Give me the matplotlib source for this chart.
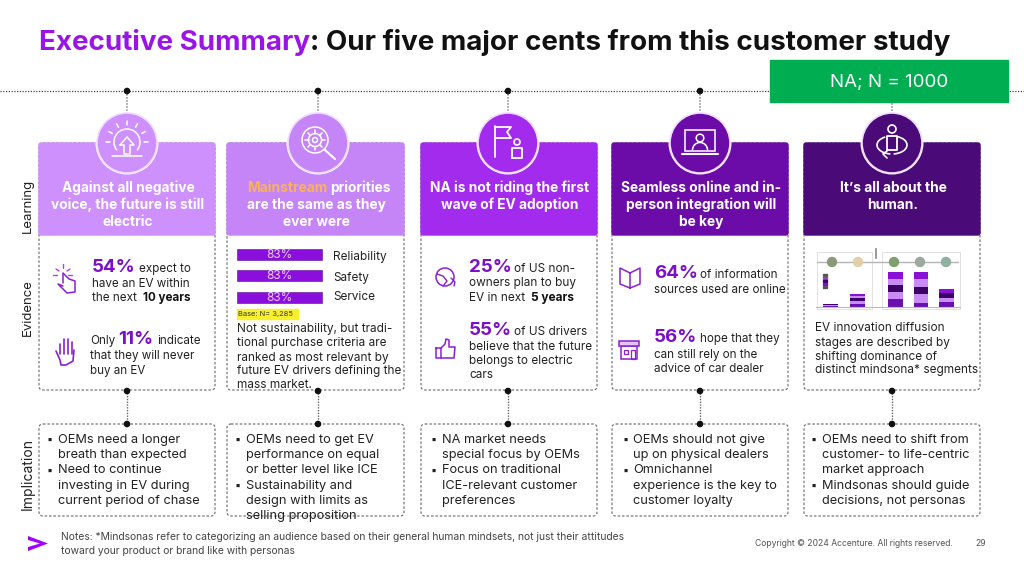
import numpy as np
import matplotlib
matplotlib.use("Agg")
import matplotlib.pyplot as plt
from matplotlib.patches import Circle, FancyBboxPatch, Rectangle, Polygon, Arc

plt.rcParams['font.family'] = ['Inter', 'DejaVu Sans']

# ---- content ----
title_a = "Executive Summary"
title_b = ": Our five major cents from this customer study"
tag = "NA; N = 1000"
row_labels = ["Learning", "Evidence", "Implication"]
bar_labels = ["Reliability", "Safety", "Service"]
bar_values = [83, 83, 83]
base_note = "Base: N= 3,285"
headers = [
    ["Against all negative", "voice, the future is still", "electric"],
    ["priorities", "are the same as they", "ever were"],
    ["NA is not riding the first", "wave of EV adoption"],
    ["Seamless online and in-", "person integration will", "be key"],
    ["It\u2019s all about the", "human."],
]
implications = [
    ["OEMs need a longer", "breath than expected", "Need to continue", "investing in EV during", "current period of chase"],
    ["OEMs need to get EV", "performance on equal", "or better level like ICE", "Sustainability and", "design with limits as", "selling proposition"],
    ["NA market needs", "special focus by OEMs", "Focus on traditional", "ICE-relevant customer", "preferences"],
    ["OEMs should not give", "up on physical dealers", "Omnichannel", "experience is the key to", "customer loyalty"],
    ["OEMs need to shift from", "customer- to life-centric", "market approach", "Mindsonas should guide", "decisions, not personas"],
]
impl_bullets = [[0, 2], [0, 3], [0, 2], [0, 2], [0, 3]]
impl_indent = [19, 19, 21, 21, 18]
mini_positions = [0, 1, 2.4, 3.35, 4.3]
mini_segments = [
    [1, 3, 8, 4, 5],
    [1, 3, 7, 9, 4],
    [1, 3, 7, 7, 5],
    [0, 2, 6, 8, 0],
    [0, 2, 7, 7, 4],
]
note = ["Notes: *Mindsonas refer to categorizing an audience based on their general human mindsets, not just their attitudes",
        "toward your product or brand like with personas"]
copyright_txt = "Copyright \u00a9 2024 Accenture. All rights reserved."
page = "29"

# ---- layout ----
W, H = 1024, 584
cols = [(39, 215), (227, 404), (421, 597), (612, 788), (804, 980)]
centers = [127, 318, 508, 700, 892]
fills = ["#CE90FC", "#C585F6", "#A32BEE", "#6B0CA8", "#4A0A78"]
PURPLE = "#7B10C8"
TXT = "#222222"
EV = 8.4

fig = plt.figure(figsize=(10.24, 5.84), dpi=100)
ax = fig.add_axes([0, 0, 1, 1])
ax.set_xlim(0, W)
ax.set_ylim(H, 0)
ax.axis("off")
fig.canvas.draw()
rend = fig.canvas.get_renderer()


def runs(x, y, parts):
    """Left-aligned run of differently styled text on one baseline."""
    for s, color, size, weight, gap in parts:
        t = ax.text(x, y, s, color=color, fontsize=size, fontweight=weight, ha="left", va="baseline", zorder=6)
        x = t.get_window_extent(rend).x1 + gap
    return x


def box(x0, y0, x1, y1, **kw):
    ax.add_patch(FancyBboxPatch((x0 + 4, y0 + 4), x1 - x0 - 8, y1 - y0 - 8,
                                boxstyle="round,pad=4,rounding_size=4", **kw))


# title
end = runs(39, 50, [(title_a, "#9A14E8", 20, "bold", 0)])
runs(end, 50, [(title_b, "#111111", 20, "bold", 0)])

# dotted rule
ax.plot([0, W], [91, 91], color="#444444", lw=0.9, ls=(0, (1, 1.2)), zorder=1)

# tag
ax.add_patch(Rectangle((770, 60), 238, 42, color="#00AD50", zorder=8))
ax.text(889, 82, tag, color="white", fontsize=13.5, ha="center", va="center", zorder=9)

# row labels
for lab, yy, fs in zip(row_labels, [206, 308, 474], [9.5, 9.5, 10]):
    ax.text(28, yy, lab, rotation=90, color=TXT, fontsize=fs, ha="center", va="center")

for i, ((x0, x1), cx) in enumerate(zip(cols, centers)):
    # connectors
    ax.plot([cx, cx], [91, 114], color="#888888", lw=1.1, ls=(0, (1, 1)), zorder=1)
    ax.plot([cx, cx], [390, 424], color="#666666", lw=1.0, ls=(0, (1, 1)), zorder=1)
    for yy in (91, 391, 424):
        ax.add_patch(Circle((cx, yy), 2.6, color="#111111", zorder=5))
    # frames
    box(x0, 143, x1, 390, fc="white", ec="#777777", lw=0.9, ls=(0, (2, 1.5)), zorder=2)
    box(x0, 424, x1, 516, fc="white", ec="#777777", lw=0.9, ls=(0, (2, 1.5)), zorder=2)
    # header
    ax.add_patch(FancyBboxPatch((x0 + 2, 145), x1 - x0 - 4, 88, boxstyle="round,pad=2,rounding_size=2",
                                fc=fills[i], ec=fills[i], zorder=3))
    ax.add_patch(Circle((cx, 143), 31.5, fc="white", ec="none", zorder=4))
    ax.add_patch(Circle((cx, 143), 30, fc=fills[i], ec="#F0DCFF", lw=1.2, zorder=4))
    # header text
    lines = headers[i]
    ys = [188, 205, 222] if len(lines) == 3 else [188, 205]
    for j, (s, yy) in enumerate(zip(lines, ys)):
        if i == 1 and j == 0:
            a = ax.text(x1 - 13, yy, s, color="white", fontsize=9.9, fontweight="bold", ha="right", va="center", zorder=6)
            ax.text(a.get_window_extent(rend).x0 - 3, yy, "Mainstream", color="#F9B15C", fontsize=9.9,
                    fontweight="bold", ha="right", va="center", zorder=6)
        else:
            ax.text((x0 + x1) / 2 + 1, yy, s, color="white", fontsize=9.9, fontweight="bold", ha="center", va="center", zorder=6)
    # implications
    yy0 = 440
    for k, s in enumerate(implications[i]):
        yy = yy0 + k * 15.2
        ax.text(x0 + impl_indent[i], yy, s, color=TXT, fontsize=9.2, ha="left", va="center", zorder=6)
        if k in impl_bullets[i]:
            ax.text(x0 + impl_indent[i] - 11, yy, "\u25aa", color=TXT, fontsize=8, ha="left", va="center", zorder=6)

# ---- evidence col 1 ----
runs(92, 272, [("54%", PURPLE, 13.5, "bold", 3), ("expect to", TXT, EV, "normal", 0)])
runs(92, 287, [("have an EV within", TXT, EV, "normal", 0)])
runs(92, 301, [("the next ", TXT, EV, "normal", 2.5), ("10 years", "#111111", EV, "bold", 0)])
runs(90, 344, [("Only", TXT, EV, "normal", 3), ("11%", PURPLE, 13.5, "bold", 4), ("indicate", TXT, EV, "normal", 0)])
runs(90, 359, [("that they will never", TXT, EV, "normal", 0)])
runs(90, 374, [("buy an EV", TXT, EV, "normal", 0)])

# ---- evidence col 2: bars scaled from their values ----
bar_scale = 85.0 / 83.0
for v, lab, yb, yl in zip(bar_values, bar_labels, [254, 275.5, 297], [257, 278, 297]):
    ax.barh(yb, v * bar_scale, left=237, height=11, color="#8A0FDC", ec="#5A0A90", lw=0.4, zorder=5)
    ax.text(237 + v * bar_scale / 2, yb + 0.8, f"{v}%", color="#EFC9FF", fontsize=8.5, ha="center", va="center", zorder=6)
    ax.text(333, yl, lab, color=TXT, fontsize=8.5, ha="left", va="center", zorder=6)
ax.add_patch(Rectangle((237, 308.5), 61, 10, color="#F7F02A", zorder=5))
ax.text(238, 314, base_note, color="#333333", fontsize=5.4, ha="left", va="center", zorder=6)
for s, yy in zip(["Not sustainability, but tradi-", "tional purchase criteria are", "ranked as most relevant by",
                  "future EV drivers defining the", "mass market."], [329, 343, 358, 371, 385]):
    ax.text(237, yy, s, color=TXT, fontsize=8.5, ha="left", va="center", zorder=6)

# ---- evidence col 3 ----
runs(469, 271.5, [("25%", PURPLE, 13.5, "bold", 2), ("of US non-", TXT, EV + 0.1, "normal", 0)])
runs(469, 286, [("owners plan to buy", TXT, EV + 0.1, "normal", 0)])
runs(469, 301, [("EV in next ", TXT, EV + 0.1, "normal", 2.5), ("5 years", "#111111", EV + 0.1, "bold", 0)])
runs(469, 335, [("55%", PURPLE, 13.5, "bold", 2), ("of US drivers", TXT, EV + 0.1, "normal", 0)])
runs(469, 350, [("believe that the future", TXT, EV + 0.1, "normal", 0)])
runs(469, 364, [("belongs to electric", TXT, EV + 0.1, "normal", 0)])
runs(469, 378, [("cars", TXT, EV + 0.1, "normal", 0)])

# ---- evidence col 4 ----
runs(654, 278, [("64%", PURPLE, 13.5, "bold", 2), ("of information", TXT, EV, "normal", 0)])
runs(654, 293, [("sources used are online", TXT, EV, "normal", 0)])
runs(654, 342, [("56%", PURPLE, 13.5, "bold", 3), ("hope that they", TXT, EV, "normal", 0)])
runs(654, 358, [("can still rely on the", TXT, EV, "normal", 0)])
runs(654, 372, [("advice of car dealer", TXT, EV, "normal", 0)])

# ---- evidence col 5 ----
for s, yy in zip(["EV innovation diffusion", "stages are described by", "shifting dominance of",
                  "distinct mindsona* segments"], [328, 343, 357, 370]):
    ax.text(815, yy, s, color=TXT, fontsize=8.5, ha="left", va="center", zorder=6)

# mini chart frames behind the inset
ax.add_patch(Rectangle((817, 252), 55, 57, fc="none", ec="#D5D5D5", lw=0.5, zorder=5))
ax.add_patch(Rectangle((882, 252), 78, 57, fc="none", ec="#D5D5D5", lw=0.5, zorder=5))
ax.plot([817, 958], [262, 262], color="#B5B5B5", lw=1, zorder=5)
ax.plot([876, 876], [249, 258], color="#888888", lw=1.2, zorder=5)
for px, c in zip([832, 858, 894, 920, 946], ["#8A9A78", "#E0CFA8", "#80A070", "#9AA8A0", "#90B0A0"]):
    ax.add_patch(Circle((px, 262), 4.5, color=c, zorder=6))
for k, c in enumerate(["#555555", "#8A4AB8", "#3D0066", "#7B10C8", "#555555"]):
    ax.add_patch(Rectangle((823, 274 + k * 2.9), 3.5, 2.0, color=c, zorder=6))

# mini chart
ins = fig.add_axes([816 / W, 1 - 307 / H, 144 / W, 55 / H], zorder=7)
seg_cols = ["#6A10B0", "#C98CF5", "#3D0066", "#C98CF5", "#8A10D8"]
bottom = np.zeros(len(mini_positions))
for seg, c in zip(mini_segments, seg_cols):
    ins.bar(mini_positions, seg, bottom=bottom, width=0.55, color=c, lw=0)
    bottom += np.array(seg)
ins.set_xlim(-0.537, 4.796)
ins.set_ylim(0, 55)
ins.set_xticks([])
ins.set_yticks([])
for s in ["top", "right", "left"]:
    ins.spines[s].set_visible(False)
ins.spines["bottom"].set_color("#BBBBBB")
ins.patch.set_alpha(0)


# ---- icons ----
def ln(xs, ys, c="white", lw=1.3):
    ax.plot(xs, ys, color=c, lw=lw, solid_capstyle="round", zorder=7)


# sun + arrow (col 1)
cx, cy = 127, 143
ax.add_patch(Arc((cx, cy - 1), 26, 26, theta1=140, theta2=400, color="white", lw=1.1, zorder=7))
for a in np.deg2rad([-150, -120, -90, -60, -30, 0, 180]):
    ln([cx + 17 * np.cos(a), cx + 21 * np.cos(a)], [cy - 1 + 17 * np.sin(a), cy - 1 + 21 * np.sin(a)], lw=1.1)
ln([cx - 7, cx, cx + 7, cx + 3, cx + 3, cx - 3, cx - 3, cx - 7], [cy + 2, cy - 6, cy + 2, cy + 2, cy + 11, cy + 11, cy + 2, cy + 2], lw=1.1)
ln([cx - 15, cx + 15], [cy + 13, cy + 13], lw=1.1)

# gear + magnifier (col 2)
cx, cy = 315, 140
ax.add_patch(Circle((cx, cy), 13, fc="none", ec="white", lw=1.1, zorder=7))
ax.add_patch(Circle((cx, cy), 6.5, fc="none", ec="white", lw=1.1, zorder=7))
ax.add_patch(Circle((cx, cy), 2.5, fc="none", ec="white", lw=1.1, zorder=7))
for a in np.deg2rad(np.arange(0, 360, 45)):
    ln([cx + 6.5 * np.cos(a), cx + 10 * np.cos(a)], [cy + 6.5 * np.sin(a), cy + 10 * np.sin(a)], lw=1.1)
ln([cx + 10, cx + 20], [cy + 10, cy + 19], lw=1.5)

# flag + person (col 3)
cx, cy = 508, 143
ln([cx - 13, cx - 13], [cy - 17, cy + 14])
ln([cx - 13, cx + 3, cx - 1, cx + 3, cx - 13], [cy - 16, cy - 16, cy - 11, cy - 5, cy - 5])
ax.add_patch(Circle((cx + 9, cy - 1), 3, fc="none", ec="white", lw=1.2, zorder=7))
ln([cx + 4, cx + 4, cx + 14, cx + 14, cx + 4], [cy + 15, cy + 5, cy + 5, cy + 15, cy + 15])

# laptop + person (col 4)
cx, cy = 700, 142
ax.add_patch(Rectangle((cx - 15, cy - 12), 30, 21, fc="none", ec="white", lw=1.1, zorder=7))
ln([cx - 18, cx + 18], [cy + 12, cy + 12], lw=1.5)
ax.add_patch(Circle((cx, cy - 4), 3.8, fc="none", ec="white", lw=1.1, zorder=7))
ax.add_patch(Arc((cx, cy + 8), 15, 15, theta1=180, theta2=360, color="white", lw=1.1, zorder=7))

# person in orbit (col 5)
cx, cy = 892, 143
ax.add_patch(Circle((cx, cy - 14), 4, fc="none", ec="white", lw=1.2, zorder=7))
ln([cx - 5, cx - 5, cx + 5, cx + 5, cx - 5], [cy + 7, cy - 7, cy - 7, cy + 7, cy + 7])
ax.add_patch(Arc((cx, cy + 2), 30, 18, theta1=-60, theta2=80, color="white", lw=1.2, zorder=7))
ax.add_patch(Arc((cx, cy + 2), 30, 18, theta1=100, theta2=230, color="white", lw=1.2, zorder=7))
ln([cx - 5, cx - 9, cx - 5], [cy + 8, cy + 11, cy + 15], lw=1.2)

IC = "#8A20D0"
# tap (col1, upper)
cx, cy = 66, 281
ln([cx - 3, cx - 3, cx + 3, cx + 9, cx + 9, cx + 1, cx - 8, cx - 3], [cy + 2, cy - 8, cy - 2, cy, cy + 11, cy + 12, cy + 3, cy + 5], IC, 1.1)
for dx, dy, ex, ey in [(-3, -17, -3, -13), (-10, -12, -7, -10), (4, -12, 1, -10), (-13, -6, -9, -6), (2, -6, 6, -6)]:
    ln([cx + dx, cx + ex], [cy + dy, cy + ey], "#B040E8", 1.0)
# hand (col1, lower)
cx, cy = 66, 352
for dx, top in zip([-6, -2, 2, 6], [-8, -13, -13, -10]):
    ln([cx + dx, cx + dx], [cy + 2, cy + top], IC, 1.2)
ln([cx - 10, cx - 6, cx - 5, cx, cx + 7, cx + 8], [cy - 1, cy + 8, cy + 13, cy + 13, cy + 9, cy - 2], IC, 1.2)

# globe (col3)
cx, cy = 445, 277
ax.add_patch(Circle((cx, cy), 9, fc="none", ec=IC, lw=1.1, zorder=7))
ln([cx - 8, cx - 2, cx + 2, cx - 2], [cy - 3, cy - 1, cy + 4, cy + 9], IC, 1)
ln([cx + 6, cx + 10, cx + 9], [cy + 1, cy + 5, cy + 9], IC, 1)
# thumb (col3)
cx, cy = 445, 350
ln([cx - 9, cx - 9, cx - 4, cx - 4, cx - 9], [cy - 2, cy + 8, cy + 8, cy - 2, cy - 2], IC, 1.1)
ln([cx - 4, cx, cx + 1, cx + 4, cx + 4, cx + 10, cx + 9, cx - 4], [cy - 2, cy - 6, cy - 11, cy - 10, cy - 3, cy - 3, cy + 8, cy + 8], IC, 1.1)

# book (col4)
cx, cy = 630, 278
ln([cx, cx - 10, cx - 10, cx, cx + 10, cx + 10, cx, cx], [cy - 5, cy - 10, cy + 6, cy + 10, cy + 6, cy - 10, cy - 5, cy + 10], IC, 1.1)
# shop (col4)
cx, cy = 629, 349
ax.add_patch(Rectangle((cx - 8, cy - 3), 16, 13, fc="none", ec=IC, lw=1.1, zorder=7))
ax.add_patch(Rectangle((cx - 10, cy - 8), 20, 5, fc="#E3C3F7", ec=IC, lw=1.1, zorder=7))
ax.add_patch(Rectangle((cx - 5, cy + 1), 4, 4, fc="none", ec=IC, lw=0.9, zorder=7))
ax.add_patch(Rectangle((cx + 2, cy + 1), 4, 9, fc="none", ec=IC, lw=0.9, zorder=7))

# footer
ax.add_patch(Polygon([[28, 536], [48, 543.5], [28, 551], [28, 547], [40, 543.5], [28, 540]], closed=True, fc="#A100FF", ec="none", zorder=5))
ax.text(61, 537, note[0], color="#444444", fontsize=7.43, ha="left", va="center")
ax.text(61, 550.5, note[1], color="#444444", fontsize=7.43, ha="left", va="center")
ax.text(755, 543, copyright_txt, color="#555555", fontsize=6.2, ha="left", va="center")
ax.text(975, 543, page, color="#555555", fontsize=6.2, ha="left", va="center")

fig.savefig("out.png", dpi=100)
